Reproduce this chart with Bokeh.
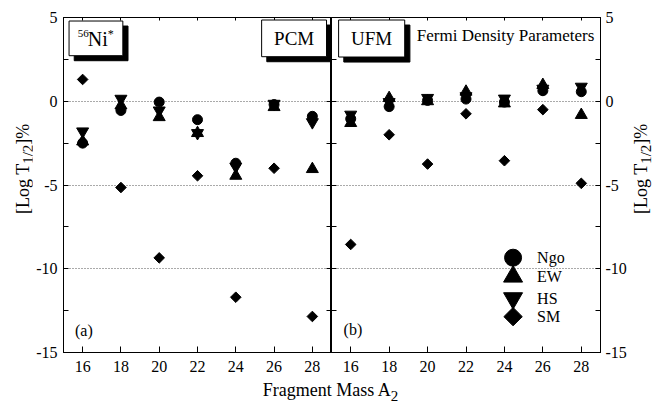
import numpy as np
from bokeh.plotting import figure
from bokeh.models import Range1d, FixedTicker, LinearAxis, BoxAnnotation, Label, Div
from bokeh.layouts import row, column
from bokeh.embed import file_html
from bokeh.resources import INLINE
from bokeh.core.properties import value

# ---------------- data ----------------
masses = [16, 18, 20, 22, 24, 26, 28]

# (a) PCM
pcm_ngo = [-2.5, -0.55, -0.05, -1.1, -3.7, -0.2, -0.9]
pcm_ew = [-2.4, -0.25, -0.95, -1.9, -4.45, -0.35, -4.05]
pcm_hs = [-1.8, 0.15, -0.55, -1.9, -3.9, -0.15, -1.25]
pcm_sm = [1.3, -5.15, -9.35, -4.45, -11.7, -4.0, -12.85]

# (b) UFM
ufm_ngo = [-1.05, -0.32, 0.05, 0.13, -0.05, 0.63, 0.57]
ufm_ew = [-1.3, 0.19, 0.0, 0.57, -0.13, 0.97, -0.82]
ufm_hs = [-0.8, -0.05, 0.2, 0.3, 0.16, 0.75, 0.87]
ufm_sm = [-8.55, -2.0, -3.75, -0.75, -3.55, -0.5, -4.9]

y_ticks = [-15, -10, -5, 0, 5]
y_minor = [-12.5, -7.5, -2.5, 2.5]
y_tick_labels = ["-15", "-10", "-5", "0", "5"]
grid_values = [-10, -5, 0]

series_names = ["Ngo", "EW", "HS", "SM"]
y_title_html = "[Log T<sub>1/2</sub>]%"
x_title_html = "Fragment Mass A<sub>2</sub>"

FONT = "Liberation Serif"
FRAME_H = 335


def style_axis(ax, ticker, labels=True, overrides=None, tick_len=5):
    ax.ticker = ticker
    ax.major_tick_in = tick_len
    ax.major_tick_out = 0
    ax.minor_tick_in = tick_len
    ax.minor_tick_out = 0
    ax.axis_line_color = "black"
    ax.major_tick_line_color = "black"
    ax.minor_tick_line_color = "black"
    if labels:
        ax.major_label_text_font = FONT
        ax.major_label_text_font_size = "16px"
        ax.major_label_text_color = "black"
        if overrides:
            ax.major_label_overrides = overrides
    else:
        ax.major_label_text_font_size = "1px"
        ax.major_label_text_color = None
        ax.major_label_standoff = 0
        ax.axis_label = None


def make_panel(side, ngo, ew, hs, sm):
    left = side == "left"
    p = figure(
        frame_width=268 if left else 269,
        frame_height=FRAME_H,
        x_range=Range1d(15, 29),
        y_range=Range1d(-15, 5),
        output_backend="svg",
        toolbar_location=None,
        y_axis_location="left" if left else "right",
        min_border_top=17,
        min_border_bottom=28,
        min_border_left=31 if left else 0,
        min_border_right=0 if left else 29,
        outline_line_color="black",
        background_fill_color="white",
        border_fill_color="white",
    )
    overrides = {v: s for v, s in zip(y_ticks, y_tick_labels)}
    yt = FixedTicker(ticks=y_ticks, minor_ticks=y_minor)
    xt = FixedTicker(ticks=masses, minor_ticks=[])

    yax = p.yaxis[0]
    style_axis(yax, yt, True, overrides)
    yax.major_label_standoff = 6 if left else 5
    yax.axis_label = None

    xax = p.xaxis[0]
    style_axis(xax, xt, True, None, tick_len=6)
    xax.major_label_standoff = 8

    # mirrored tick axes (ticks only)
    mirror_y = LinearAxis()
    style_axis(mirror_y, FixedTicker(ticks=y_ticks, minor_ticks=y_minor), False)
    p.add_layout(mirror_y, "right" if left else "left")
    mirror_x = LinearAxis()
    style_axis(mirror_x, FixedTicker(ticks=masses, minor_ticks=[]), False, tick_len=3)
    p.add_layout(mirror_x, "above")

    p.xgrid.visible = False
    p.ygrid.ticker = FixedTicker(ticks=grid_values, minor_ticks=[])
    p.ygrid.grid_line_color = "#555555"
    p.ygrid.grid_line_dash = "1 2"
    p.ygrid.grid_line_width = 1

    p.scatter(masses, sm, marker="square", angle=np.pi / 4, size=7.5, color="black")
    p.scatter(masses, ew, marker="triangle", size=12, color="black")
    p.scatter(masses, hs, marker="inverted_triangle", size=12, color="black")
    p.scatter(masses, ngo, marker="circle", size=10, color="black")
    return p


def box(p, l, r, t, b, shadow=(0.27, 0.3)):
    p.add_layout(BoxAnnotation(left=l + shadow[0], right=r + shadow[0], top=t - shadow[1],
                               bottom=b - shadow[1], fill_color="black", fill_alpha=1,
                               line_color="black", line_alpha=1))
    p.add_layout(BoxAnnotation(left=l, right=r, top=t, bottom=b, fill_color="white",
                               fill_alpha=1, line_color="black", line_alpha=1, line_width=1))


def label(p, x, y, text, size, align="center", xo=0, yo=0):
    p.add_layout(Label(x=x, y=y, text=text, text_font=FONT, text_font_size=size,
                       text_align=align, text_baseline="middle", text_color="black",
                       x_offset=xo, y_offset=yo))


def y_title_div(width, margin_left):
    inner = ('<div style="writing-mode: vertical-rl; transform: rotate(180deg); '
             'height: 264px; margin-top: 37px; margin-left: %dpx; width: 18px; '
             'text-align: center; font-family: \'%s\'; font-size: 18px; line-height: 18px; '
             'color: black; white-space: nowrap;">%s</div>') % (margin_left, FONT, y_title_html)
    return Div(text=inner, width=width, height=380, margin=(0, 0, 0, 0))


p1 = make_panel("left", pcm_ngo, pcm_ew, pcm_hs, pcm_sm)
p2 = make_panel("right", ufm_ngo, ufm_ew, ufm_hs, ufm_sm)

# boxed panel tags
box(p1, 15.29, 18.1, 4.79, 2.72)
label(p1, 16.69, 3.72, "Ni", "20px", xo=2)
label(p1, 16.69, 3.72, "56", "11px", align="right", xo=-7, yo=5)
label(p1, 16.69, 3.72, "*", "12px", align="left", xo=12, yo=5)

box(p1, 25.35, 28.74, 4.85, 2.66)
label(p1, 27.05, 3.75, "PCM", "19px")

box(p2, 15.37, 18.81, 4.85, 2.64)
label(p2, 17.09, 3.75, "UFM", "19px")

label(p2, 19.44, 3.95, "Fermi Density Parameters", "17px", align="left")
label(p1, 15.6, -13.66, "(a)", "16px", align="left")
label(p2, 15.63, -13.6, "(b)", "16px", align="left")

# legend (drawn manually so the markers are large, as in the original)
legend_markers = ["circle", "triangle", "inverted_triangle", "square"]
legend_sizes = [17, 19, 19, 13]
legend_angles = [0, 0, 0, np.pi / 4]
legend_x = 24.45
legend_y = [-9.34, -10.47, -11.76, -12.86]
for mk, sz, an, yy in zip(legend_markers, legend_sizes, legend_angles, legend_y):
    p2.scatter([legend_x], [yy], marker=mk, size=sz, angle=an, color="black")
p2.text(x=[legend_x + 1.25] * 4, y=legend_y, text=series_names, text_font=value(FONT),
        text_font_size="16px", text_baseline="middle", text_color="black")

left_title = y_title_div(32, 14)
right_title = y_title_div(26, 3)

xlabel = Div(text=x_title_html, width=655, height=25, margin=(0, 0, 0, 0),
             styles={"font-family": FONT, "font-size": "18px", "text-align": "center",
                     "line-height": "20px", "color": "black", "width": "655px",
                     "padding-left": "6px"})

layout = column(row(left_title, p1, p2, right_title, spacing=0), xlabel, spacing=0)

open("out.html", "w").write(file_html(layout, INLINE))
